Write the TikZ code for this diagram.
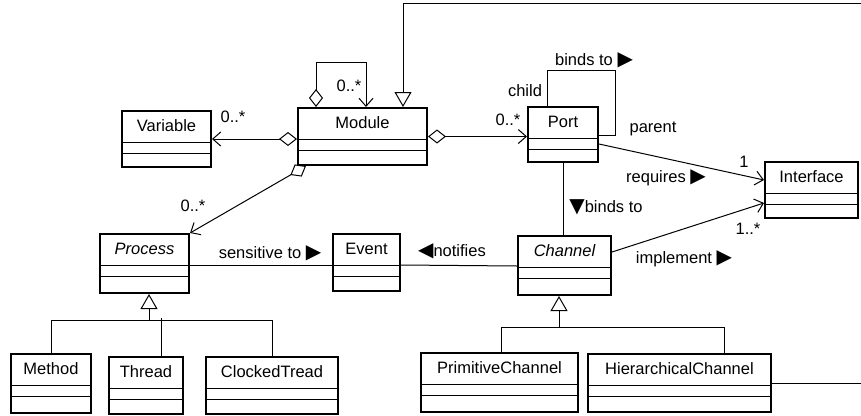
\documentclass[tikz,border=0pt]{standalone}
\usepackage{fontspec}
\setmainfont{Liberation Sans}
\newfontfamily\symfont{DejaVu Sans}
\newcommand\dirmark[1]{{\symfont\fontsize{20}{20}\selectfont #1}}
\usetikzlibrary{arrows.meta,calc}
\begin{document}
\begin{tikzpicture}[x=1pt,y=-1pt,line width=1pt,
  every node/.style={font=\fontsize{16.5}{19}\selectfont,inner sep=0pt},
  cls/.style={draw,line width=2pt,anchor=north west,inner sep=0pt},
  agg/.style={{Diamond[open,length=18pt,width=14pt]}-{Straight Barb[length=8pt,width=14pt]}},
  nav/.style={-{Straight Barb[length=8pt,width=14pt]}},
  gen/.style={-{Triangle[open,length=15pt,width=17pt]}}]
  \useasboundingbox (0,0) rectangle (861,415);
  \foreach \n/\x/\y/\w/\h/\t in {variable/121/110/89/56/Variable, module/297/107/129/57/Module,
      port/527/106/70/55/Port, interface/764/161/93/56/Interface,
      process/99/233/89/59/{\itshape Process}, event/332/233/67/57/Event,
      channel/517/235/93/59/{\itshape Channel}, method/10/353/80/59/Method,
      thread/108/356/74/57/Thread, clocked/205/356/132/57/ClockedTread,
      primitive/420/352/157/59/PrimitiveChannel, hierarchical/587/353/183/58/HierarchicalChannel} {
    \node[cls,minimum width=\w pt,minimum height=\h pt] (\n) at (\x,\y) {};
    \node (\n-t) at ([yshift=-16pt]\n.north) {\t};
    \draw ([yshift=-32pt]\n.north west) -- ([yshift=-32pt]\n.north east);
    \draw ([yshift=-43pt]\n.north west) -- ([yshift=-43pt]\n.north east);
  }
  \coordinate (edgetop) at (861,3);
  \coordinate (edgeright) at (861,383);
  \draw[gen] (edgetop) -| ([xshift=106pt]module.north west);
  \draw (hierarchical.east) -- (edgeright |- hierarchical.east);
  \draw[agg] ([xshift=19pt]module.north west) -- ++(0,-45) -| ([xshift=69pt]module.north west);
  \node (modmult) at (349,86) {0..*};
  \draw[agg] (module.west |- variable.east) -- (variable.east);
  \node (varmult) at (233,117) {0..*};
  \draw[agg] (module.east) -- (module.east -| port.west);
  \node (portmult) at (508,120) {0..*};
  \draw[agg] ([xshift=9pt]module.south west) -- (process.north east);
  \node (procmult) at (193,206) {0..*};
  \draw ([xshift=20pt]port.north west) |- ([xshift=16pt,yshift=36pt]port.north east)
    |- ([yshift=-29pt]port.north east);
  \node (child) at (525,91) {child};
  \node (bindsto) at (594,60) {binds to \dirmark{▶}};
  \node (parent) at (653,129) {parent};
  \draw[nav] ([yshift=-38pt]port.north east) -- ([yshift=-19pt]interface.north west);
  \node (ifone) at (744,162) {1};
  \node (requires) at (666,178) {requires \dirmark{▶}};
  \draw (port.south) -- (port.south |- channel.north);
  \node (bindsdown) at (606,207) {\dirmark{▼}binds to};
  \draw[nav] ([yshift=-17pt]channel.north east) -- ([yshift=-42pt]interface.north west);
  \node (ifmany) at (748,229) {1..*};
  \node (implement) at (684,259) {implement \dirmark{▶}};
  \draw ([yshift=-32pt]process.north east) -- ([yshift=-32pt]event.north west);
  \node (sensitive) at (270,253) {sensitive to \dirmark{▶}};
  \draw ([yshift=-31pt]channel.north west) -- ([yshift=-32pt]event.north east);
  \node (notifies) at (452,251) {\dirmark{◀}notifies};
  \coordinate (pbus) at ([xshift=4.5pt,yshift=-26pt]process.south);
  \draw[gen] (pbus) -- (pbus |- process.south);
  \draw (method.north) |- (pbus);
  \draw (clocked.north) |- (pbus);
  \draw ([xshift=15pt]thread.north) -- ++(0,-38);
  \coordinate (cbus) at ([xshift=-5.5pt,yshift=-31pt]channel.south);
  \draw[gen] (cbus) -- (cbus |- channel.south);
  \draw ([xshift=1.5pt]primitive.north) |- (cbus);
  \draw ([xshift=44.5pt]hierarchical.north) |- (cbus);
\end{tikzpicture}
\end{document}
